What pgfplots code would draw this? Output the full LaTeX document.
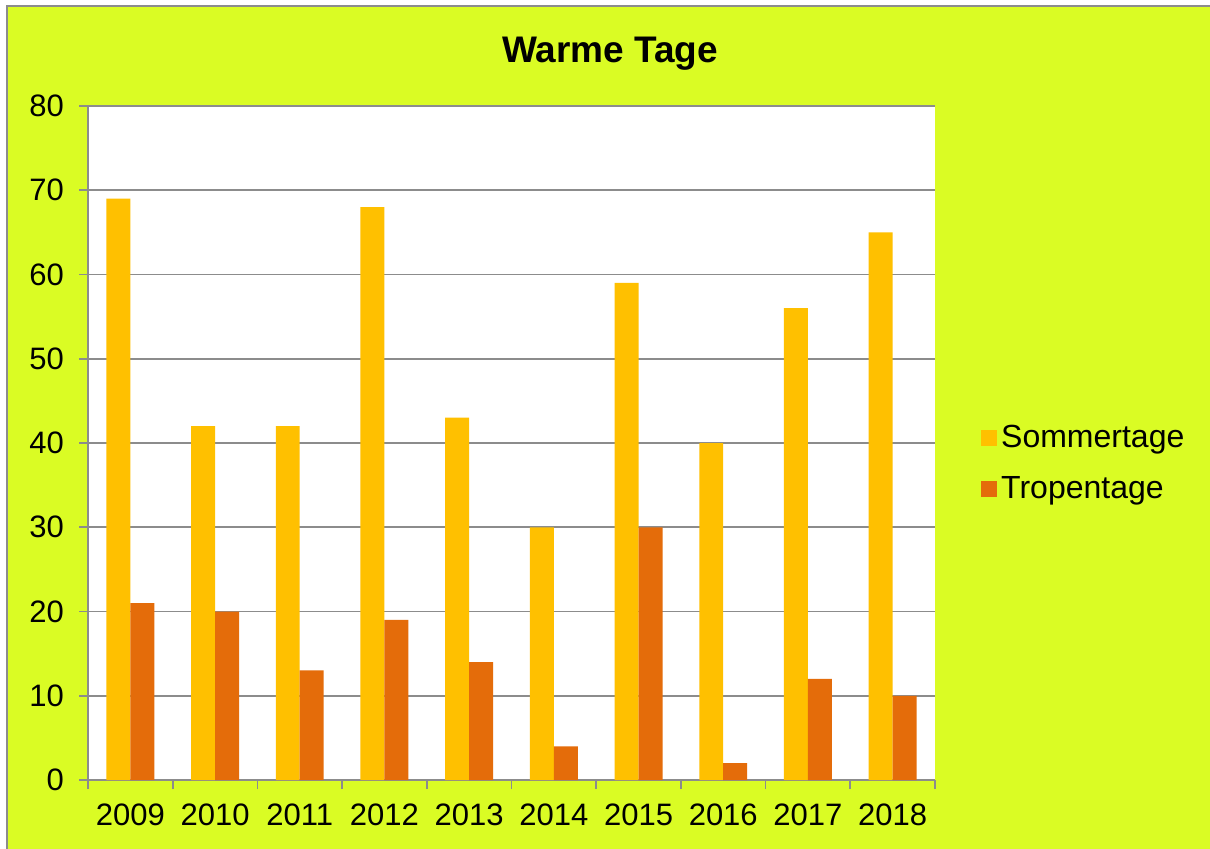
\documentclass[border=0pt]{standalone}
\usepackage{pgfplots}
\pgfplotsset{compat=1.18}
\usepackage{fontspec}
\setmainfont{Liberation Sans}
\definecolor{bg}{HTML}{DAFC24}
\definecolor{somm}{HTML}{FFC000}
\definecolor{trop}{HTML}{E46C0A}
\definecolor{ax}{HTML}{8C8C8C}
\begin{document}
\begin{tikzpicture}[x=1pt,y=1pt]
\useasboundingbox (0,0) rectangle (605,424);
\clip (0,0) rectangle (605,424);
\fill[white] (0,0) rectangle (605,424);
\filldraw[fill=bg,draw=ax,line width=0.8pt] (3.5,-10) rectangle (620,421);
\node[anchor=base,font=\bfseries\fontsize{18.5}{20}\selectfont] at (305,392.5) {Warme Tage};
\begin{axis}[
  at={(44pt,34pt)}, anchor=south west,
  scale only axis, width=423.5pt, height=337pt,
  axis background/.style={fill=white},
  ybar, bar width=0.283, 
  xmin=-0.5, xmax=9.5, ymin=0, ymax=80,
  xtick={0,...,9},
  xticklabels={2009,2010,2011,2012,2013,2014,2015,2016,2017,2018},
  minor xtick={-0.5,0.5,...,9.5},
  ytick={0,10,...,80},
  major x tick style={draw=none},
  minor x tick style={draw=ax, line width=0.8pt},
  y tick style={draw=ax, line width=0.8pt},
  tick align=outside,
  major tick length=4.5pt, minor tick length=4.5pt,
  ymajorgrids, grid style={ax, line width=0.8pt},
  axis line style={ax, line width=0.8pt},
  axis x line*=bottom, axis y line*=left,
  tick label style={font=\fontsize{15.5}{17}\selectfont},
  yticklabel style={xshift=-4pt},
  xticklabel style={yshift=-4pt},
  /pgf/number format/assume math mode=true,
  legend style={at={(1.047,0.47)}, anchor=west, draw=none, fill=none,
    font=\fontsize{16}{18}\selectfont, row sep=9pt,
    /tikz/every even column/.append style={column sep=0pt}},
  legend cell align=left,
  legend image code/.code={\fill[#1] (0pt,-4pt) rectangle (8pt,4pt);},
]
\addplot[fill=somm, draw=none, bar shift=-0.1415] coordinates {
(0,69) (1,42) (2,42) (3,68) (4,43) (5,30) (6,59) (7,40) (8,56) (9,65)};
\addplot[fill=trop, draw=none, bar shift=0.1415] coordinates {
(0,21) (1,20) (2,13) (3,19) (4,14) (5,4) (6,30) (7,2) (8,12) (9,10)};
\legend{Sommertage,Tropentage}
\end{axis}
\end{tikzpicture}
\end{document}
